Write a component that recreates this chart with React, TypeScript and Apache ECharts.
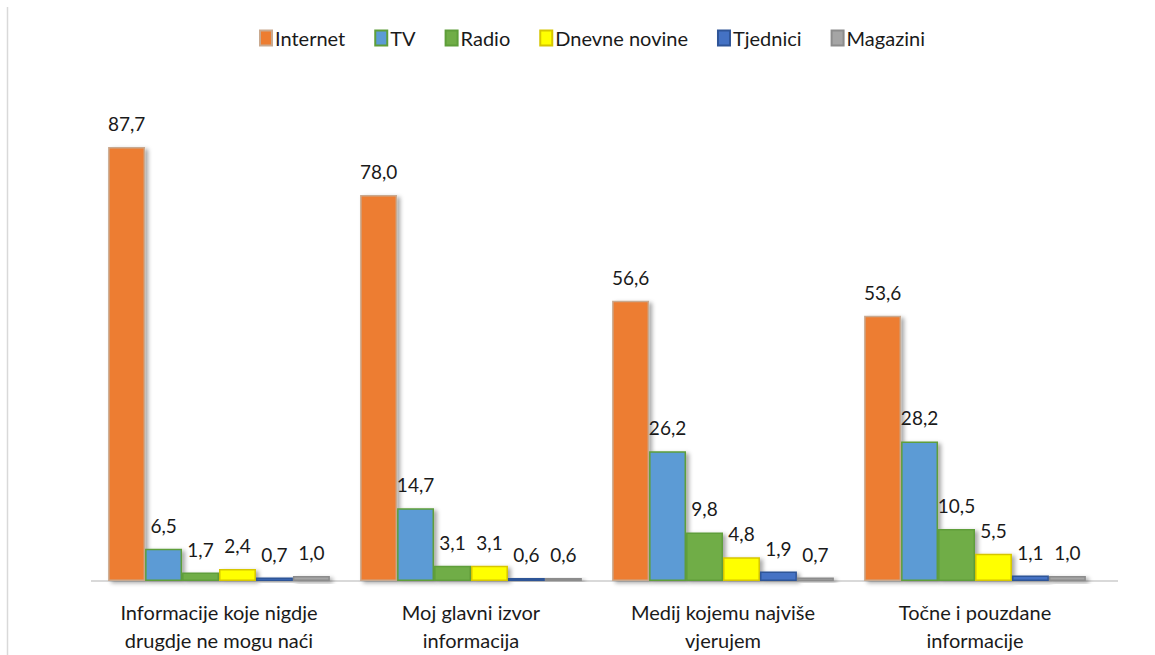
import React, { useEffect, useRef } from "react";
import * as echarts from "echarts";

const categories = [
  "Informacije koje nigdje\ndrugdje ne mogu naći",
  "Moj glavni izvor\ninformacija",
  "Medij kojemu najviše\nvjerujem",
  "Točne i pouzdane\ninformacije",
];
const seriesNames = ["Internet", "TV", "Radio", "Dnevne novine", "Tjednici", "Magazini"];
const internet = [87.7, 78.0, 56.6, 53.6];
const tv = [6.5, 14.7, 26.2, 28.2];
const radio = [1.7, 3.1, 9.8, 10.5];
const dnevne = [2.4, 3.1, 4.8, 5.5];
const tjednici = [0.7, 0.6, 1.9, 1.1];
const magazini = [1.0, 0.6, 0.7, 1.0];

const values = [internet, tv, radio, dnevne, tjednici, magazini];
const fills = ["#ED7D31", "#5B9BD5", "#70AD47", "#FFFF00", "#4472C4", "#A5A5A5"];
const borders = ["#C9A98F", "#5E9E3A", "#5E9E3A", "#D6C600", "#2F5597", "#8C8C8C"];

const FONT = "Lato, 'Liberation Sans', sans-serif";

export default function App() {
  const ref = useRef<HTMLDivElement>(null);
  useEffect(() => {
    if (!ref.current) return;
    const chart = echarts.init(ref.current, undefined, { renderer: "svg" });
    chart.setOption({
      animation: false,
      backgroundColor: "#ffffff",
      legend: {
        top: 23,
        left: 254,
        itemWidth: 12,
        itemHeight: 15,
        itemGap: 29,
        textStyle: { fontFamily: FONT, fontSize: 20, color: "#1a1a1a", padding: [0, 0, 0, -2] },
        icon: "rect",
        data: seriesNames,
      },
      grid: { left: 93, right: 54, top: 86, bottom: 74 },
      xAxis: {
        type: "category",
        data: categories,
        axisLine: { show: false },
        axisTick: { show: false },
        axisLabel: {
          interval: 0,
          fontFamily: FONT,
          fontSize: 20,
          color: "#1a1a1a",
          lineHeight: 28,
          margin: 17,
        },
      },
      yAxis: {
        type: "value",
        min: 0,
        max: 100,
        show: false,
        splitLine: { show: false },
      },
      graphic: [
        {
          type: "line",
          shape: { x1: 7.5, y1: 7, x2: 7.5, y2: 655 },
          style: { stroke: "#d9d9d9", lineWidth: 1.5 },
        },
        {
          type: "line",
          z: -1,
          shape: { x1: 91, y1: 581, x2: 1118, y2: 581 },
          style: { stroke: "#d9d9d9", lineWidth: 2 },
        },
      ],
      series: seriesNames.map((name, i) => ({
        name,
        type: "bar",
        data: values[i],
        barGap: "0%",
        barCategoryGap: "12%",
        itemStyle: {
          color: fills[i],
          borderColor: borders[i],
          borderWidth: 1.5,
          shadowColor: "rgba(0,0,0,0.35)",
          shadowBlur: 4,
          shadowOffsetX: 3,
          shadowOffsetY: 2,
        },
        label: {
          show: true,
          position: "top",
          distance: 14,
          fontFamily: FONT,
          fontSize: 19,
          color: "#1a1a1a",
          formatter: (p: any) => p.value.toFixed(1).replace(".", ","),
        },
      })),
    });
    return () => chart.dispose();
  }, []);
  return <div ref={ref} style={{ width: 1155, height: 655, position: "absolute", left: 0, top: 0 }} />;
}
